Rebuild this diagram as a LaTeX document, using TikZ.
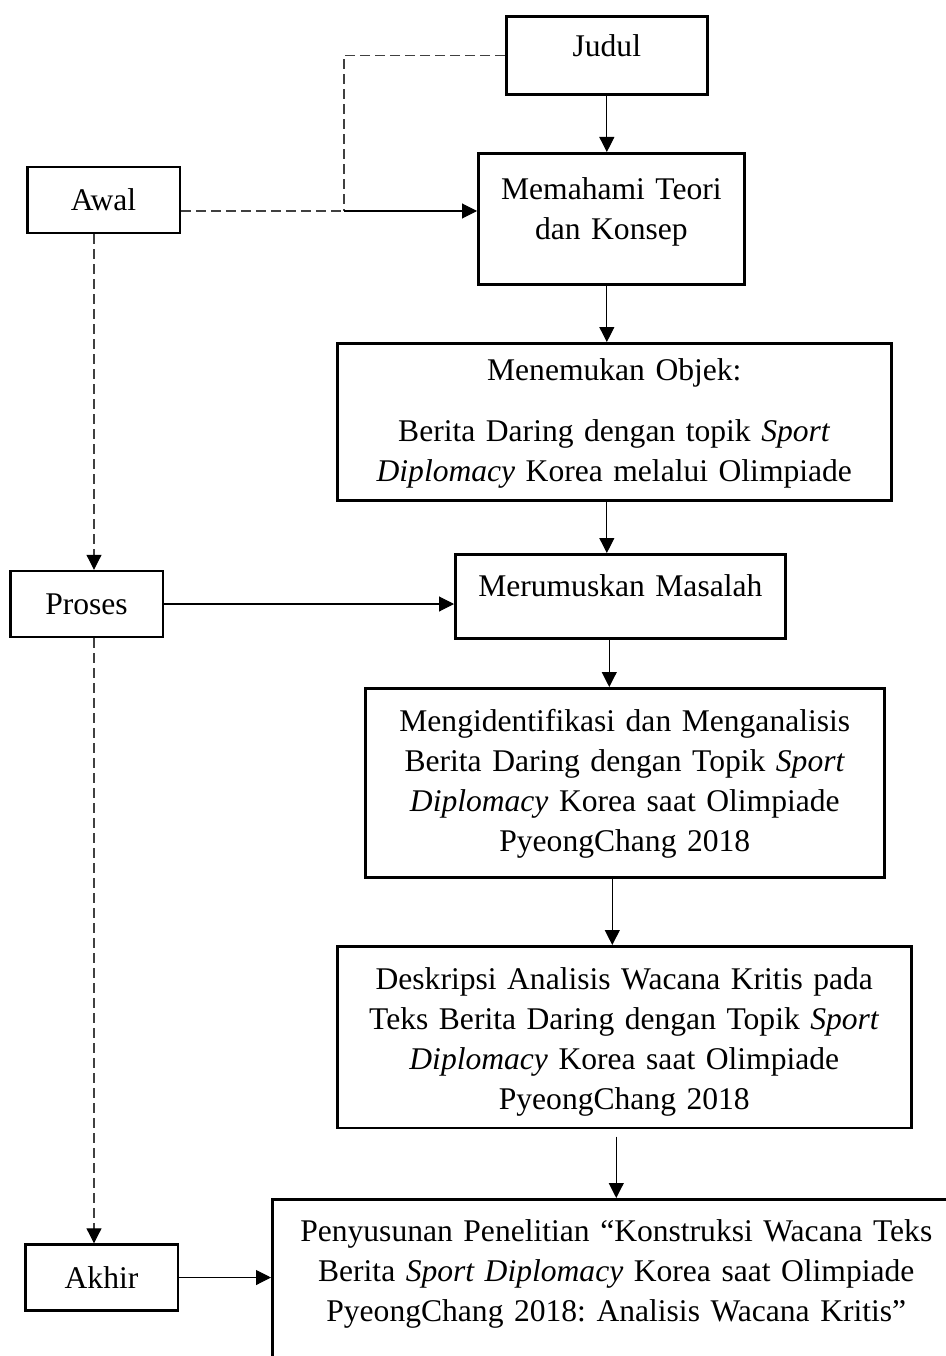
\documentclass[tikz,border=0pt]{standalone}
\usepackage{fontspec}
\setmainfont{Liberation Serif}
\usetikzlibrary{arrows.meta}

\begin{document}
\begin{tikzpicture}[->,>={Triangle[length=5.7pt,width=5.7pt,black]},x=0.38pt,y=-0.38pt,
  font=\fontsize{12pt}{15.2pt}\selectfont\frenchspacing,
  kotak/.style={draw,line width=1pt,align=center,inner xsep=0pt,inner ysep=0pt,anchor=north west},
  kecil/.style={draw,line width=1pt,align=center,minimum width=58pt,minimum height=25pt,inner sep=0pt},
  putus/.style={-,black!75,dash pattern=on 3.8pt off 1.9pt}]

\useasboundingbox (0,0) rectangle (946,1356);

\node[kotak,text width=76.4pt,text height=15.2pt,text depth=14.4pt] (judul) at (505,15) {Judul};
\node[kotak,text width=101.1pt,text height=17.5pt,text depth=32.3pt] (teori) at (477,152)
  {Memahami Teori\\dan Konsep};
\node[kotak,text width=210.5pt,text height=14.1pt,text depth=45.6pt] (objek) at (336,342)
  {Menemukan Objek:\\[8pt]Berita Daring dengan topik \textit{Sport}\\\textit{Diplomacy} Korea melalui Olimpiade};
\node[kotak,text width=125.4pt,text height=16pt,text depth=16pt] (masalah) at (454,553)
  {Merumuskan Masalah};
\node[kotak,text width=197.2pt,text height=16.3pt,text depth=55.5pt] (analisis) at (364,687)
  {Mengidentifikasi dan Menganalisis\\Berita Daring dengan Topik \textit{Sport}\\\textit{Diplomacy} Korea saat Olimpiade\\PyeongChang 2018};
\node[kotak,text width=218.1pt,text height=16.3pt,text depth=52.8pt] (deskripsi) at (336,945)
  {Deskripsi Analisis Wacana Kritis pada\\Teks Berita Daring dengan Topik \textit{Sport}\\\textit{Diplomacy} Korea saat Olimpiade\\PyeongChang 2018};
\node[kotak,text width=261.4pt,text height=16pt,text depth=57pt] (susun) at (271,1198)
  {Penyusunan Penelitian “Konstruksi Wacana Teks\\Berita \textit{Sport Diplomacy} Korea saat Olimpiade\\PyeongChang 2018: Analisis Wacana Kritis”};

\node[kecil] (awal) at (103.5,200) {Awal};
\node[kecil] (proses) at (86.5,604) {Proses};
\node[kecil] (akhir) at (101.5,1277.5) {Akhir};

\coordinate (simpang) at (344,211);
\coordinate (jalur) at (94,0);

\draw (judul.south) -- (judul.south |- teori.north);
\draw (teori.south -| judul.south) -- (objek.north -| judul.south);
\draw (objek.south -| judul.south) -- (masalah.north -| judul.south);
\draw ([xshift=-4.2pt]masalah.south) -- ([xshift=-4.2pt]masalah.south |- analisis.north);
\draw ([xshift=-4.75pt]analisis.south) -- ([xshift=-4.75pt]analisis.south |- deskripsi.north);
\draw[shorten <=2.7pt] (deskripsi.south -| susun.north) -- (susun.north);

\draw[putus] (awal.east |- simpang) -- (simpang);
\draw[putus] (judul.west) -| (simpang);
\draw (simpang) -- (teori.west |- simpang);
\draw[putus,->] (awal.south -| jalur) -- (proses.north -| jalur);
\draw[putus,->] (proses.south -| jalur) -- (akhir.north -| jalur);
\draw (proses.east) -- (proses.east -| masalah.west);
\draw (akhir.east) -- (akhir.east -| susun.west);

\end{tikzpicture}
\end{document}
